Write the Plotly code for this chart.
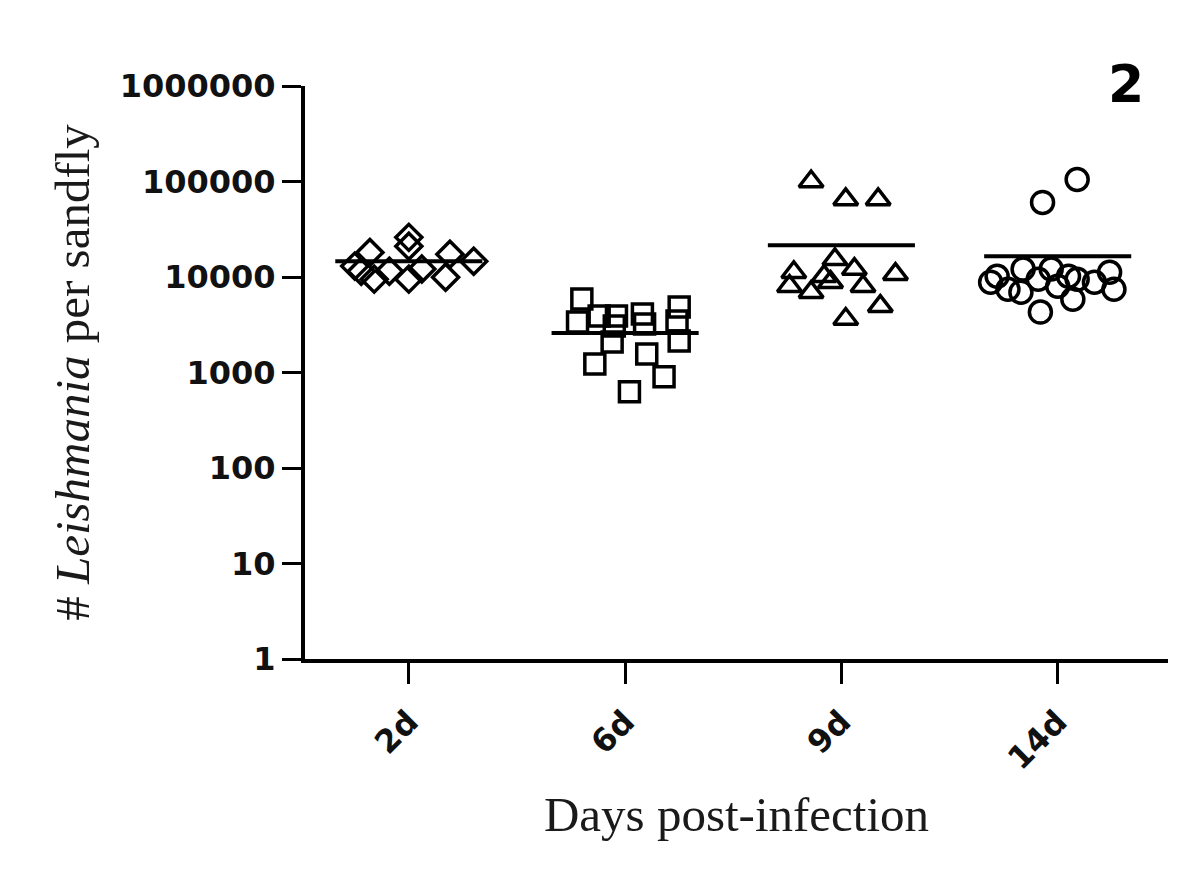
import plotly.graph_objects as go

# Groups (days post-infection)
groups = ['2d', '6d', '9d', '14d']
symbols = ['diamond-open', 'square-open', 'triangle-up-open', 'circle-open']
sizes = [20, 20, 21, 22]

# Parasite counts per sandfly
vals_2d = [26000, 21000, 18100, 17300, 13000, 14600, 11500, 11500, 9500, 9950, 12100, 9500]
jit_2d = [0.0, 0.0, -0.18, 0.19, -0.25, 0.30, -0.22, -0.09, 0.0, 0.17, 0.06, -0.16]

vals_6d = [5870, 3380, 3900, 3900, 3060, 4090, 3220, 4840, 3460, 2140, 2090, 1230, 1560, 900, 627]
jit_6d = [-0.20, -0.22, -0.12, -0.04, -0.05, 0.08, 0.09, 0.25, 0.24, 0.25, -0.06, -0.14, 0.10, 0.18, 0.02]

vals_9d = [100000, 64900, 64900, 11200, 15300, 12100, 10700, 8010, 6940, 8830, 8010, 4950, 3630, 10200]
jit_9d = [-0.14, 0.02, 0.17, -0.22, -0.03, 0.06, 0.25, -0.24, -0.14, -0.05, 0.10, 0.18, 0.02, -0.08]

vals_14d = [105000, 60400, 10200, 7460, 12100, 9490, 12100, 10200, 9490, 8830, 11200, 7460,
            5860, 4290, 6940, 8830, 8010]
jit_14d = [0.09, -0.07, -0.28, -0.23, -0.16, -0.09, -0.03, 0.05, 0.09, 0.17, 0.24, 0.26,
           0.07, -0.08, -0.17, -0.31, 0.0]

# group means (horizontal bars)
means = [14600, 2590, 21500, 16500]

all_vals = [vals_2d, vals_6d, vals_9d, vals_14d]
all_jit = [jit_2d, jit_6d, jit_9d, jit_14d]

fig = go.Figure()

for i, (vals, jit) in enumerate(zip(all_vals, all_jit)):
    fig.add_trace(go.Scatter(
        x=[i + j for j in jit], y=vals, mode='markers',
        marker=dict(symbol=symbols[i], size=sizes[i], color='black',
                    line=dict(width=3.5, color='black')),
        showlegend=False, name=groups[i]))
    fig.add_trace(go.Scatter(
        x=[i - 0.34, i + 0.34], y=[means[i], means[i]], mode='lines',
        line=dict(color='black', width=4), showlegend=False))

tick_font = dict(family='DejaVu Sans', size=32, color='#111111')

fig.update_xaxes(
    range=[-0.48, 3.51], tickvals=list(range(len(groups))), ticktext=['<b>%s</b>' % g for g in groups],
    tickangle=-45, tickfont=tick_font, showline=True, linewidth=4, linecolor='black',
    ticks='outside', ticklen=21, tickwidth=3, tickcolor='black', showgrid=False, zeroline=False,
    automargin=False, ticklabelstandoff=6,
    title=dict(text='Days post-infection', standoff=22,
               font=dict(family='Liberation Serif', size=49, color='#1a1a1a')))

fig.update_yaxes(
    type='log', range=[0, 6], tickvals=[1, 10, 100, 1000, 10000, 100000, 1000000],
    ticktext=['<b>%d</b>' % v for v in [1, 10, 100, 1000, 10000, 100000, 1000000]],
    tickfont=tick_font, showline=True, linewidth=4, linecolor='black',
    ticks='outside', ticklen=19, tickwidth=3, tickcolor='black', showgrid=False, zeroline=False,
    automargin=False,
    title=dict(text='# <i>Leishmania</i> per sandfly', standoff=16,
               font=dict(family='Liberation Serif', size=49, color='#1a1a1a')))

fig.add_annotation(xref='paper', yref='paper', x=0.951, y=1.003, text='<b>2</b>',
                   showarrow=False, xanchor='center', yanchor='middle',
                   font=dict(family='DejaVu Sans', size=52, color='black'))

fig.update_layout(width=1200, height=889, plot_bgcolor='white', paper_bgcolor='white',
                  margin=dict(l=297, r=40, t=78, b=238))

fig.write_html('out.html')
